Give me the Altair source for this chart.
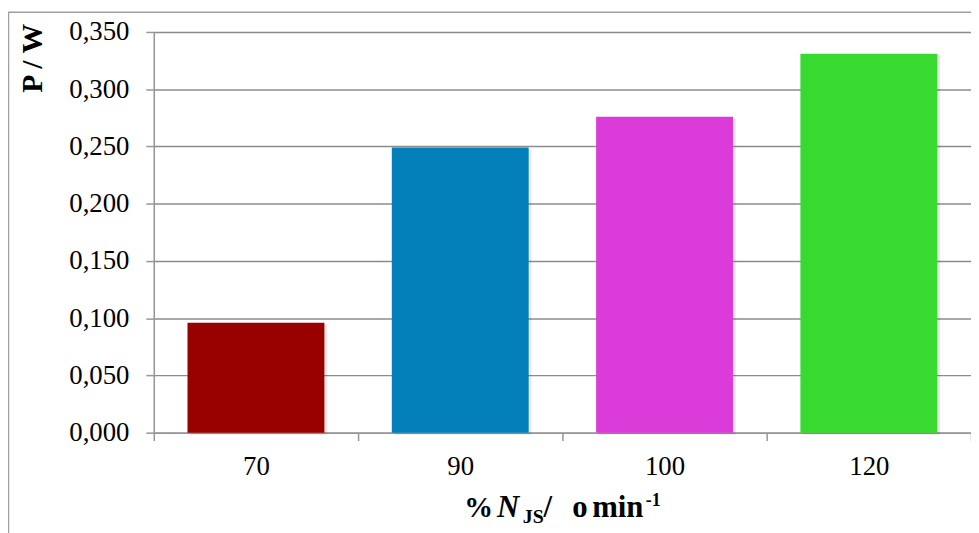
import altair as alt
import pandas as pd

categories = ["70", "90", "100", "120"]
values = [0.096, 0.249, 0.276, 0.331]
colors = ["#990000", "#0380BA", "#DB3BD8", "#39DA2F"]
y_ticks = [0.0, 0.05, 0.10, 0.15, 0.20, 0.25, 0.30, 0.35]

df = pd.DataFrame({"cat": categories, "val": values, "col": colors})

FONT = "Liberation Serif"
one = alt.Data(values=[{}])

x_enc = alt.X("cat:N", sort=categories,
              scale=alt.Scale(paddingInner=0, paddingOuter=0),
              axis=alt.Axis(title=None, labelAngle=0, tickBand="extent", tickSize=8,
                            labelPadding=13, labelFontSize=27, labelFont=FONT,
                            labelColor="#000000", domainColor="#969696", domainWidth=1.5,
                            tickColor="#969696", tickWidth=1.5, grid=False))
y_enc = alt.Y("val:Q", scale=alt.Scale(domain=[0, 0.35], nice=False),
              axis=alt.Axis(values=y_ticks, title="P / W", titleFont=FONT, titleFontSize=30,
                            titleFontWeight="bold", titleColor="#000000", titleAngle=270,
                            titleX=-122, titleY=26, titleAlign="center", titleBaseline="middle",
                            labelExpr="replace(format(datum.value, '.3f'), '.', ',')",
                            labelFont=FONT, labelFontSize=27, labelColor="#000000",
                            labelPadding=17, tickSize=8, tickColor="#969696", tickWidth=1.5,
                            domainColor="#969696", domainWidth=1.5,
                            gridColor="#8c8c8c", gridWidth=1.5))

shadow = alt.Chart(df).mark_bar(color="#000000", opacity=0.08, xOffset=3, yOffset=2,
                                width=alt.RelativeBandSize(0.67)).encode(x=x_enc, y=y_enc)
bars = alt.Chart(df).mark_bar(width=alt.RelativeBandSize(0.67)).encode(
    x=x_enc, y=y_enc, color=alt.Color("col:N", scale=None))

border = alt.Chart(one).mark_rect(fillOpacity=0, stroke="#a0a0a0", strokeWidth=1.5).encode(
    x=alt.value(-146.5), x2=alt.value(840), y=alt.value(-20), y2=alt.value(600))

def txt(t, x, y, size=31, style="normal"):
    return alt.Chart(one).mark_text(text=t, font=FONT, fontSize=size, fontWeight="bold",
                                    fontStyle=style, align="left", baseline="alphabetic",
                                    color="#000000").encode(x=alt.value(x), y=alt.value(y))

title_parts = [
    txt("%", 313, 489, size=29),
    txt("N", 346, 489, style="italic"),
    txt("JS", 372, 495, size=20),
    txt("/", 393, 489),
    txt("o", 422, 489),
    txt("min", 442, 489),
    txt("-1", 496, 478, size=18),
]

chart = alt.layer(border, shadow, bars, *title_parts).properties(
    width=824, height=404,
    autosize=alt.AutoSizeParams(type="none"),
    padding={"left": 147, "top": 22, "right": 0, "bottom": 99},
).configure_view(stroke=None).configure(background="#ffffff")

chart.save("out.html", embed_options={"renderer": "svg", "actions": False})
